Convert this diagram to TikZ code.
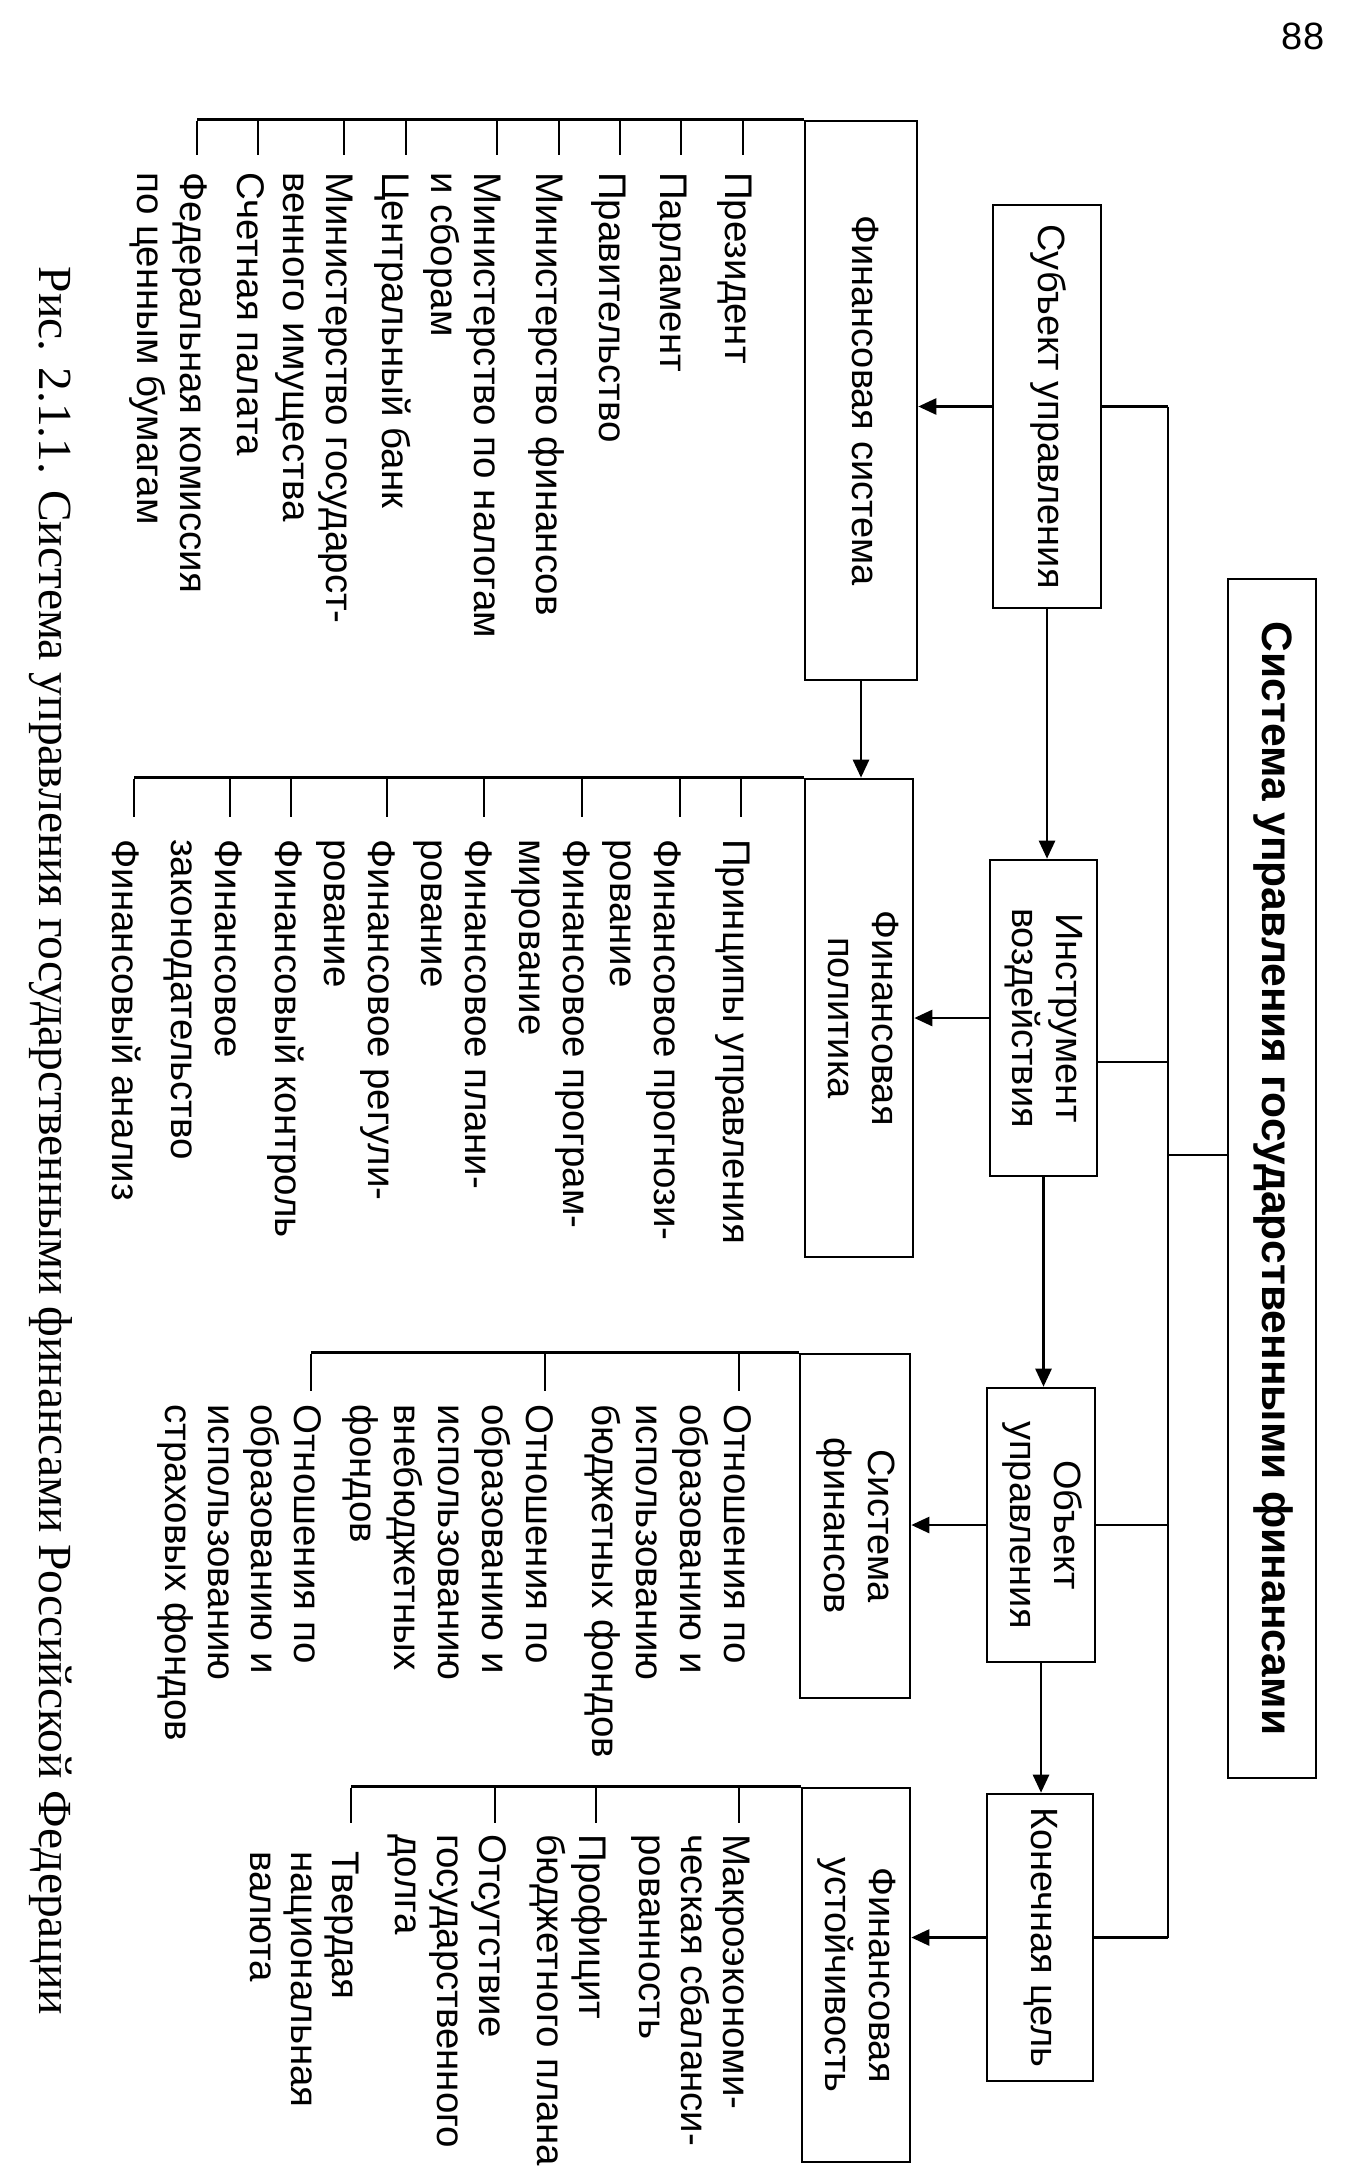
\documentclass[tikz,border=0pt]{standalone}
\usepackage{fontspec}
\usepackage{graphicx}
\setmainfont{Liberation Sans}
\newfontfamily\capfont{Liberation Serif}
\usetikzlibrary{arrows.meta}
\newcommand\rt[2][c]{\rotatebox{-90}{\begin{tabular}{@{}#1@{}}#2\end{tabular}}}
\begin{document}
\begin{tikzpicture}[x=1pt,y=-1pt,line width=2.6pt,
  box/.style={draw,line width=2.6pt,inner sep=0pt,font=\fontsize{38}{44}\selectfont},
  lst/.style={inner sep=0pt,anchor=north east,font=\fontsize{38.5}{#1}\selectfont},
  arr/.style={-{Triangle[length=18pt,width=16pt]}}]
\useasboundingbox (0,0) rectangle (1368,2184);
% page number
\node[font=\fontsize{38}{40}\selectfont,inner sep=0pt] (pn) at (1303,36) {88};
% boxes
\node[box,minimum width=88pt,minimum height=1199pt,font=\fontsize{42.5}{48}\bfseries\selectfont] (title) at (1272,1178.5) {\rt{Система управления государственными финансами}};
\node[box,minimum width=108pt,minimum height=403pt] (subj) at (1047,406.5) {\rt{Субъект управления}};
\node[box,minimum width=107pt,minimum height=316pt] (instr) at (1043.5,1018) {\rt{Инструмент\\воздействия}};
\node[box,minimum width=108pt,minimum height=274pt] (obj) at (1041,1525) {\rt{Объект\\управления}};
\node[box,minimum width=106pt,minimum height=287pt] (kon) at (1040,1937.5) {\rt{Конечная цель}};
\node[box,minimum width=112pt,minimum height=559pt] (fs) at (861,400.5) {\rt{Финансовая система}};
\node[box,minimum width=108pt,minimum height=478pt] (pol) at (859,1018) {\rt{Финансовая\\политика}};
\node[box,minimum width=110pt,minimum height=344pt] (sf) at (855,1526) {\rt{Система\\финансов}};
\node[box,minimum width=108pt,minimum height=374pt] (fu) at (856,1975) {\rt{Финансовая\\устойчивость}};
% bus
\coordinate (bus) at (1168,0);
\coordinate (ij) at (1097,1062);
\coordinate (tj) at (1168,1155);
\draw (bus |- subj.east) -- (bus |- kon.east);
\draw (subj.east) -- (subj.east -| bus);
\draw (instr.east |- ij) -- (ij -| bus);
\draw (obj.east) -- (obj.east -| bus);
\draw (kon.east) -- (kon.east -| bus);
\draw (tj) -- (tj -| title.west);
% arrows
\draw[arr] (subj.west) -- (subj.west -| fs.east);
\draw[arr] (instr.west) -- (instr.west -| pol.east);
\draw[arr] (obj.west) -- (obj.west -| sf.east);
\draw[arr] (kon.west) -- (kon.west -| fu.east);
\draw[arr] (fs.south) -- (fs.south |- pol.north);
\draw[arr] (subj.south) -- (subj.south |- instr.north);
\draw[arr] (instr.south) -- (instr.south |- obj.north);
\draw[arr] (obj.south) -- (obj.south |- kon.north);
% ---- list of financial system
\coordinate (fsl) at (197,0);
\draw (fs.north west) -- (fs.north west -| fsl);
\foreach \x in {743,681,620,559,497,406,344,258,197} \draw (\x,121) -- (\x,155);
\node[lst=43] (fs1) at (757,171) {\rt[l]{Президент}};
\node[lst=43] (fs2) at (692,171) {\rt[l]{Парламент}};
\node[lst=43] (fs3) at (631,171) {\rt[l]{Правительство}};
\node[lst=43] (fs4) at (568,171) {\rt[l]{Министерство финансов}};
\node[lst=43] (fs5) at (506,171) {\rt[l]{Министерство по налогам\\и сборам}};
\node[lst=43] (fs6) at (414,171) {\rt[l]{Центральный банк}};
\node[lst=43] (fs7) at (358,171) {\rt[l]{Министерство государст-\\венного имущества}};
\node[lst=43] (fs8) at (269,171) {\rt[l]{Счетная палата}};
\node[lst=43] (fs9) at (212,171) {\rt[l]{Федеральная комиссия\\по ценным бумагам}};
% ---- list of policy
\coordinate (pll) at (134,0);
\draw (pol.north west) -- (pol.north west -| pll);
\foreach \x in {741,680,582,484,387,291,230,134} \draw (\x,779) -- (\x,817);
\node[lst=44] (pl1) at (756,838) {\rt[l]{Принципы управления}};
\node[lst=44] (pl2) at (687,838) {\rt[l]{Финансовое прогнози-\\рование}};
\node[lst=44] (pl3) at (596,838) {\rt[l]{Финансовое програм-\\мирование}};
\node[lst=44] (pl4) at (498,838) {\rt[l]{Финансовое плани-\\рование}};
\node[lst=44] (pl5) at (401,838) {\rt[l]{Финансовое регули-\\рование}};
\node[lst=44] (pl6) at (308,838) {\rt[l]{Финансовый контроль}};
\node[lst=44] (pl7) at (248,838) {\rt[l]{Финансовое\\законодательство}};
\node[lst=44] (pl8) at (145,838) {\rt[l]{Финансовый анализ}};
% ---- list of system of finances
\coordinate (sfl) at (311,0);
\draw (sf.north west) -- (sf.north west -| sfl);
\foreach \x in {739,545,311} \draw (\x,1354) -- (\x,1391);
\node[lst=44] (sf1) at (757,1403) {\rt[l]{Отношения по\\образованию и\\использованию\\бюджетных фондов}};
\node[lst=44] (sf2) at (559,1403) {\rt[l]{Отношения по\\образованию и\\использованию\\внебюджетных\\фондов}};
\node[lst=43] (sf3) at (326,1403) {\rt[l]{Отношения по\\образованию и\\использованию\\страховых фондов}};
% ---- list of stability
\coordinate (ful) at (351,0);
\draw (fu.north west) -- (fu.north west -| ful);
\foreach \x in {739,596,495,351} \draw (\x,1788) -- (\x,1823);
\node[lst=42] (fu1) at (754,1833) {\rt[l]{Макроэкономи-\\ческая сбаланси-\\рованность}};
\node[lst=42] (fu2) at (610,1833) {\rt[l]{Профицит\\бюджетного плана}};
\node[lst=42] (fu3) at (510,1833) {\rt[l]{Отсутствие\\государственного\\долга}};
\node[lst=41] (fu4) at (362,1850) {\rt[l]{Твердая\\национальная\\валюта}};
% caption
\node[inner sep=0pt,font=\capfont\fontsize{47.5}{52}\selectfont] (cap) at (51,1141) {\rotatebox{-90}{Рис. 2.1.1. Система управления государственными финансами Российской Федерации}};
\end{tikzpicture}
\end{document}
